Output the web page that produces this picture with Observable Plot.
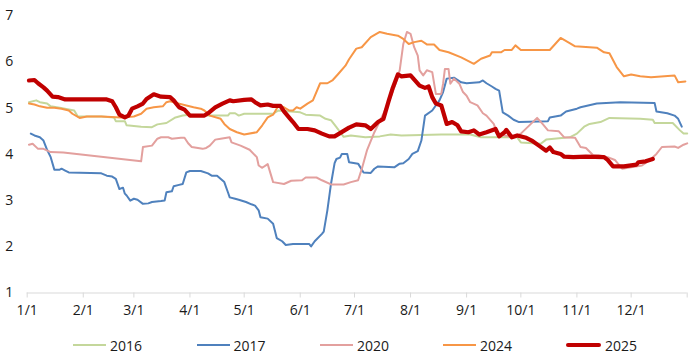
<!DOCTYPE html>
<html><head><meta charset="utf-8">
<script src="https://cdn.jsdelivr.net/npm/d3@7"></script>
<script src="https://cdn.jsdelivr.net/npm/@observablehq/plot@0.6"></script>
<style>
body{margin:0;background:#fff;font-family:"Open Sans",sans-serif;}
#chart{position:relative;width:696px;height:359px;overflow:hidden;}
#legend{position:absolute;top:334px;left:0;width:696px;height:22px;}
.item{position:absolute;top:0;display:flex;align-items:center;height:22px;font-size:14px;color:#1a1a1a;}
.sw{width:33px;margin-right:4px;}
</style></head><body><div id="chart"><div id="plot"></div><div id="legend"></div></div>
<script>
// tick labels
const monthLabels = ["1/1","2/1","3/1","4/1","5/1","6/1","7/1","8/1","9/1","10/1","11/1","12/1"];
const yTicks = [1,2,3,4,5,6,7];
const seriesNames = ["2016","2017","2020","2024","2025"];

// day-of-year (0 = Jan 1) and value for each series
const days2016 = [1,5,7,11,13,18,26,28,41,48,49,54,55,63,69,72,77,82,86,90,98,111,112,115,117,120,136,139,151,154,162,165,168,171,175,179,187,195,201,207,229,245,251,264,271,273,284,287,300,304,308,311,317,322,339,346,347,357,361,363,365];
const vals2016 = [5.13,5.17,5.13,5.10,5.04,5.01,4.95,4.82,4.82,4.80,4.72,4.72,4.63,4.60,4.59,4.65,4.68,4.80,4.84,4.86,4.84,4.84,4.89,4.89,4.84,4.88,4.88,4.95,4.91,4.86,4.84,4.77,4.74,4.59,4.38,4.41,4.37,4.39,4.43,4.41,4.43,4.43,4.37,4.37,4.37,4.26,4.23,4.32,4.37,4.45,4.60,4.66,4.70,4.79,4.77,4.75,4.68,4.68,4.52,4.45,4.45];

const days2017 = [2,4,7,9,11,13,15,18,19,21,23,41,44,47,49,51,53,54,55,57,59,61,64,67,69,74,76,77,80,81,84,86,88,90,96,100,102,105,109,111,112,115,117,121,124,126,128,129,133,136,137,138,141,143,145,147,156,157,159,163,164,166,168,170,171,173,174,177,178,183,186,190,192,194,203,206,208,211,213,216,218,220,224,228,230,232,236,240,243,250,252,254,257,259,261,263,266,269,272,288,289,295,298,304,306,315,328,347,348,354,358,360,362];
const vals2017 = [4.45,4.41,4.37,4.30,4.10,3.94,3.67,3.67,3.69,3.65,3.61,3.59,3.54,3.52,3.47,3.25,3.28,3.15,3.11,3.00,3.04,3.02,2.93,2.94,2.97,2.99,3.00,3.18,3.20,3.31,3.34,3.36,3.61,3.64,3.64,3.59,3.54,3.54,3.40,3.18,3.07,3.04,3.02,2.97,2.92,2.89,2.79,2.64,2.61,2.50,2.35,2.19,2.12,2.04,2.05,2.06,2.06,2.01,2.12,2.28,2.33,2.79,3.36,3.81,3.90,3.93,4.01,4.01,3.83,3.80,3.61,3.60,3.69,3.74,3.72,3.80,3.81,3.90,4.01,4.07,4.30,4.84,4.95,5.17,5.35,5.64,5.66,5.56,5.54,5.56,5.60,5.54,5.47,5.42,5.38,4.91,4.84,4.75,4.70,4.72,4.80,4.84,4.93,4.99,5.02,5.10,5.13,5.11,4.93,4.89,4.84,4.77,4.60];

const days2020 = [1,3,6,9,13,20,63,64,69,72,74,78,80,85,87,89,91,97,99,101,104,107,112,113,118,123,127,128,130,133,136,142,146,152,154,160,163,168,175,179,183,185,188,192,197,201,204,206,208,210,212,214,216,217,219,221,224,226,229,230,231,233,234,236,239,241,243,245,249,252,254,258,260,264,269,273,282,285,288,294,297,303,306,309,313,316,321,325,329,334,340,344,348,351,358,360,363,365];
const vals2020 = [4.21,4.23,4.12,4.12,4.05,4.04,3.85,4.16,4.19,4.34,4.37,4.37,4.34,4.36,4.36,4.24,4.16,4.12,4.14,4.19,4.32,4.34,4.37,4.26,4.19,4.10,3.94,3.76,3.71,3.79,3.40,3.36,3.43,3.44,3.50,3.50,3.44,3.35,3.35,3.40,3.44,3.68,4.10,4.48,4.88,5.24,5.56,5.82,6.39,6.65,6.61,6.32,6.14,5.82,5.71,5.82,5.78,5.31,5.31,5.53,5.85,5.85,5.53,5.64,5.53,5.35,5.27,5.13,5.06,4.89,4.84,4.66,4.45,4.41,4.37,4.45,4.79,4.66,4.52,4.50,4.37,4.36,4.16,4.14,3.98,3.98,3.94,3.88,3.69,3.72,3.76,3.87,4.01,4.16,4.17,4.14,4.21,4.24];

const days2024 = [1,4,7,11,15,19,23,25,29,33,41,52,59,63,66,70,75,77,79,83,88,92,96,98,101,107,109,112,116,120,127,130,133,136,139,142,145,147,149,151,155,158,162,166,169,172,176,178,182,185,190,195,199,205,208,211,214,218,221,225,228,233,240,247,251,256,257,262,264,268,270,273,289,295,300,303,315,319,322,326,330,334,339,345,358,360,364];
const vals2024 = [5.10,5.08,5.04,5.01,5.01,4.99,4.95,4.88,4.79,4.82,4.82,4.80,4.82,4.88,4.99,5.02,5.04,5.13,5.15,5.11,5.06,5.02,4.99,4.95,4.84,4.77,4.66,4.55,4.48,4.43,4.48,4.63,4.80,4.86,5.06,5.02,4.95,4.95,5.02,4.99,5.10,5.17,5.54,5.54,5.61,5.74,5.92,6.06,6.29,6.32,6.54,6.65,6.61,6.57,6.50,6.39,6.43,6.46,6.38,6.38,6.26,6.21,6.10,5.96,6.07,6.14,6.21,6.21,6.26,6.26,6.36,6.26,6.26,6.52,6.41,6.34,6.31,6.21,6.19,5.89,5.69,5.73,5.69,5.67,5.71,5.56,5.58];

const days2025 = [1,4,6,9,11,14,17,21,44,47,49,51,54,56,58,61,64,66,70,74,79,81,84,87,90,98,100,104,108,112,114,120,124,126,129,133,136,140,142,145,147,150,155,159,163,167,170,173,178,182,187,190,194,197,200,202,205,207,212,217,220,222,224,226,229,232,235,238,240,244,247,250,254,259,261,264,265,268,271,276,279,283,287,289,291,295,297,302,309,319,321,324,330,337,338,342,346];
const vals2025 = [5.60,5.61,5.54,5.45,5.38,5.25,5.24,5.19,5.19,5.15,5.02,4.86,4.80,4.84,4.99,5.04,5.10,5.20,5.30,5.25,5.24,5.17,5.02,4.97,4.84,4.84,4.89,5.02,5.10,5.17,5.15,5.18,5.19,5.13,5.06,5.08,5.05,5.05,4.93,4.79,4.70,4.55,4.55,4.52,4.45,4.39,4.39,4.46,4.58,4.65,4.63,4.55,4.70,4.77,5.17,5.42,5.73,5.69,5.71,5.49,5.44,5.47,5.24,5.10,5.06,4.66,4.70,4.63,4.50,4.48,4.52,4.43,4.48,4.55,4.39,4.48,4.53,4.37,4.41,4.36,4.30,4.19,4.08,4.15,4.05,4.01,3.95,3.94,3.95,3.94,3.88,3.74,3.74,3.78,3.83,3.85,3.90];

const colors = ["#c4d79b","#4f81bd","#e3a09e","#f79646","#c00000"];
const widths = [2,2,2,2,4.2];

const toDate = d => new Date(Date.UTC(2025, 0, 1 + d));
const build = (days, vals) => days.map((d, i) => ({date: toDate(d), v: vals[i]}));
const series = [build(days2016, vals2016), build(days2017, vals2017), build(days2020, vals2020), build(days2024, vals2024), build(days2025, vals2025)];

const monthTicks = monthLabels.map((_, m) => new Date(Date.UTC(2025, m, 1)));
const endTick = new Date(Date.UTC(2026, 0, 1));
const allTicks = [...monthTicks, endTick];

const chart = Plot.plot({
  width: 696,
  height: 328,
  marginLeft: 26.7,
  marginRight: 9.3,
  marginTop: 15.3,
  marginBottom: 35.5,
  style: {fontFamily: "'Open Sans', sans-serif", fontSize: "14px", color: "#1a1a1a", background: "#fff"},
  x: {type: "utc", domain: [monthTicks[0], endTick]},
  y: {domain: [1, 7]},
  marks: [
    Plot.axisY({ticks: yTicks, tickFormat: d => String(d), tickSize: 0, tickPadding: 14, label: null, fontSize: 14}),
    Plot.ruleY([1], {stroke: "#d9d9d9", strokeWidth: 1}),
    Plot.axisX({ticks: allTicks, tickSize: 5, tickPadding: 7, stroke: "#d9d9d9", label: null, fontSize: 14,
      tickFormat: d => { const i = monthTicks.findIndex(t => +t === +d); return i < 0 ? "" : monthLabels[i]; }}),
    ...series.map((s, i) => Plot.line(s, {x: "date", y: "v", stroke: colors[i], strokeWidth: widths[i], strokeLinejoin: "round", strokeLinecap: "round"}))
  ]
});
document.getElementById("plot").appendChild(chart);

const legend = document.getElementById("legend");
const starts = [73, 196.5, 320, 443, 566];
seriesNames.forEach((name, i) => {
  const it = document.createElement("div");
  it.className = "item";
  it.style.left = starts[i] + "px";
  const sw = document.createElement("div");
  sw.className = "sw";
  sw.style.height = (i === 4 ? 4.5 : 2.5) + "px";
  sw.style.background = colors[i];
  if (i === 4) { sw.style.width = "35px"; sw.style.borderRadius = "2px"; }
  const tx = document.createElement("span");
  tx.textContent = name;
  it.appendChild(sw); it.appendChild(tx);
  legend.appendChild(it);
});
</script></body></html>
